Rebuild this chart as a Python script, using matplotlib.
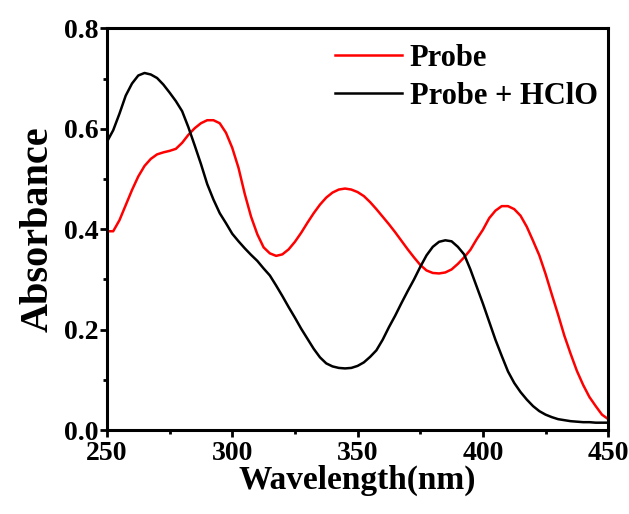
import matplotlib.pyplot as plt
from matplotlib.ticker import MultipleLocator

# Absorption spectra (2.5 nm steps)
wavelength = [250, 252.5, 255, 257.5, 260, 262.5, 265, 267.5, 270, 272.5, 275, 277.5,
              280, 282.5, 285, 287.5, 290, 292.5, 295, 297.5, 300, 302.5, 305, 307.5,
              310, 312.5, 315, 317.5, 320, 322.5, 325, 327.5, 330, 332.5, 335, 337.5,
              340, 342.5, 345, 347.5, 350, 352.5, 355, 357.5, 360, 362.5, 365, 367.5,
              370, 372.5, 375, 377.5, 380, 382.5, 385, 387.5, 390, 392.5, 395, 397.5,
              400, 402.5, 405, 407.5, 410, 412.5, 415, 417.5, 420, 422.5, 425, 427.5,
              430, 432.5, 435, 437.5, 440, 442.5, 445, 447.5, 450]

probe = [0.396, 0.396, 0.418, 0.448, 0.478, 0.505, 0.526, 0.540, 0.549, 0.553, 0.556, 0.560,
         0.572, 0.588, 0.601, 0.611, 0.617, 0.617, 0.611, 0.592, 0.562, 0.522, 0.470, 0.425,
         0.390, 0.364, 0.352, 0.347, 0.350, 0.360, 0.375, 0.393, 0.413, 0.432, 0.449, 0.463,
         0.473, 0.479, 0.481, 0.479, 0.474, 0.466, 0.454, 0.440, 0.425, 0.410, 0.394, 0.377,
         0.360, 0.344, 0.329, 0.318, 0.313, 0.312, 0.314, 0.320, 0.331, 0.344, 0.359, 0.380,
         0.399, 0.422, 0.437, 0.446, 0.446, 0.440, 0.427, 0.405, 0.377, 0.348, 0.311, 0.270,
         0.230, 0.188, 0.152, 0.118, 0.090, 0.066, 0.048, 0.031, 0.022]

probe_hclo = [0.574, 0.597, 0.630, 0.666, 0.690, 0.706, 0.711, 0.708, 0.701, 0.688, 0.672, 0.655,
              0.635, 0.603, 0.567, 0.530, 0.490, 0.459, 0.432, 0.412, 0.391, 0.376, 0.362, 0.349,
              0.337, 0.322, 0.308, 0.288, 0.267, 0.245, 0.224, 0.202, 0.182, 0.162, 0.145, 0.133,
              0.127, 0.124, 0.123, 0.124, 0.128, 0.135, 0.146, 0.159, 0.180, 0.205, 0.228, 0.253,
              0.277, 0.300, 0.325, 0.348, 0.365, 0.375, 0.378, 0.376, 0.365, 0.350, 0.320, 0.286,
              0.252, 0.216, 0.180, 0.148, 0.117, 0.094, 0.076, 0.061, 0.048, 0.038, 0.031, 0.026,
              0.022, 0.020, 0.018, 0.017, 0.016, 0.016, 0.015, 0.015, 0.015]

plt.rcParams['font.family'] = 'Liberation Serif'
plt.rcParams['font.weight'] = 'bold'

fig = plt.figure(figsize=(6.29, 5.14), dpi=100)
ax = fig.add_axes([0.170, 0.163, 0.797, 0.782])

ax.plot(wavelength, probe, color='#ff0000', lw=1.8, label='Probe')
ax.plot(wavelength, probe_hclo, color='black', lw=1.8, label='Probe + HClO')

ax.set_xlim(250, 450)
ax.set_ylim(0, 0.8)
ax.xaxis.set_major_locator(MultipleLocator(50))
ax.xaxis.set_minor_locator(MultipleLocator(25))
ax.yaxis.set_major_locator(MultipleLocator(0.2))
ax.yaxis.set_minor_locator(MultipleLocator(0.1))
ax.yaxis.set_major_formatter(plt.FormatStrFormatter('%.1f'))

for s in ax.spines.values():
    s.set_linewidth(2.2)
ax.tick_params(which='major', direction='out', length=5, width=2, labelsize=20)
ax.tick_params(axis='x', which='major', pad=3)
ax.tick_params(axis='y', which='major', pad=1)
ax.tick_params(which='minor', direction='out', length=3, width=2)
ax.tick_params(top=False, right=False, which='both')

ax.set_xlabel('Wavelength(nm)', fontsize=24, fontweight='bold', labelpad=-1)
ax.set_ylabel('Absorbance', fontsize=29, fontweight='bold', labelpad=5)

ax.legend(loc='upper left', bbox_to_anchor=(0.40, 1.03), frameon=False,
          handlelength=2.2, handletextpad=0.25, labelspacing=0.3,
          prop={'weight': 'bold', 'size': 22})

fig.savefig('out.png', dpi=100)
